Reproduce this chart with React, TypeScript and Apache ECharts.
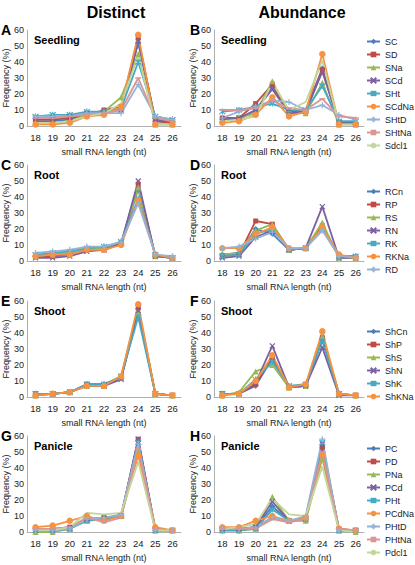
import React, { useEffect, useRef } from 'react';
import * as echarts from 'echarts';

const CATEGORIES = ['18', '19', '20', '21', '22', '23', '24', '25', '26'];

const SEEDLING_NAMES = ['SC', 'SD', 'SNa', 'SCd', 'SHt', 'SCdNa', 'SHtD', 'SHtNa', 'Sdcl1'];
const ROOT_NAMES = ['RCn', 'RP', 'RS', 'RN', 'RK', 'RKNa', 'RD'];
const SHOOT_NAMES = ['ShCn', 'ShP', 'ShS', 'ShN', 'ShK', 'ShKNa'];
const PANICLE_NAMES = ['PC', 'PD', 'PNa', 'PCd', 'PHt', 'PCdNa', 'PHtD', 'PHtNa', 'Pdcl1'];

// A: Distinct, Seedling
const SEEDLING_DISTINCT = [
  [3, 3, 4, 7, 8, 11, 52, 3, 2],
  [4, 4, 5, 7, 10, 12, 55, 3, 2],
  [2, 2, 3, 7, 9, 18, 45, 1, 1],
  [5, 5, 6, 8, 9, 10, 53, 4, 3],
  [6, 7, 7, 9, 9, 11, 40, 6, 4],
  [1, 1, 2, 6, 7, 12, 57, 1, 1],
  [6, 6, 6, 8, 8, 8, 26, 6, 4],
  [5, 5, 6, 7, 8, 10, 30, 5, 3],
  [2, 2, 3, 6, 8, 14, 44, 1, 1],
];
// B: Abundance, Seedling
const SEEDLING_ABUNDANCE = [
  [4, 4, 10, 24, 9, 10, 36, 2, 2],
  [5, 5, 14, 26, 8, 9, 35, 2, 1],
  [4, 5, 8, 28, 8, 8, 27, 1, 1],
  [4, 5, 10, 23, 8, 9, 34, 2, 1],
  [9, 10, 12, 14, 10, 10, 25, 3, 3],
  [2, 3, 7, 18, 6, 9, 45, 1, 1],
  [5, 9, 12, 16, 15, 10, 13, 7, 4],
  [10, 10, 11, 16, 11, 10, 17, 6, 5],
  [3, 4, 6, 27, 10, 15, 41, 1, 1],
];
// C: Distinct, Root
const ROOT_DISTINCT = [
  [3, 3, 4, 7, 8, 11, 45, 3, 2],
  [3, 3, 4, 7, 7, 11, 48, 3, 2],
  [3, 4, 5, 8, 8, 11, 46, 3, 2],
  [2, 2, 3, 6, 7, 11, 50, 3, 2],
  [4, 5, 6, 8, 9, 12, 39, 4, 2],
  [3, 4, 4, 7, 7, 10, 38, 4, 2],
  [5, 6, 7, 9, 9, 12, 36, 4, 3],
];
// D: Abundance, Root
const ROOT_ABUNDANCE = [
  [4, 5, 20, 17, 7, 8, 21, 3, 3],
  [3, 4, 25, 23, 7, 8, 22, 3, 2],
  [4, 5, 19, 23, 7, 8, 24, 2, 2],
  [2, 3, 15, 19, 7, 8, 34, 2, 2],
  [3, 4, 17, 20, 7, 8, 20, 3, 3],
  [8, 8, 17, 21, 8, 8, 21, 4, 2],
  [8, 9, 14, 18, 8, 8, 19, 3, 2],
];
// E: Distinct, Shoot
const SHOOT_DISTINCT = [
  [2, 2, 3, 8, 8, 12, 55, 2, 1],
  [2, 2, 3, 8, 7, 12, 56, 2, 1],
  [1, 2, 3, 7, 7, 12, 52, 2, 1],
  [1, 2, 3, 7, 7, 11, 54, 2, 1],
  [2, 2, 3, 8, 8, 13, 50, 2, 1],
  [1, 2, 3, 7, 7, 13, 58, 2, 1],
];
// F: Abundance, Shoot
const SHOOT_ABUNDANCE = [
  [2, 2, 7, 24, 6, 7, 36, 2, 1],
  [2, 2, 8, 25, 6, 7, 37, 2, 1],
  [1, 3, 16, 20, 6, 7, 38, 2, 1],
  [2, 2, 9, 32, 6, 7, 31, 1, 1],
  [2, 2, 11, 22, 7, 8, 35, 2, 1],
  [1, 2, 10, 26, 6, 8, 41, 2, 1],
];
// G: Distinct, Panicle
const PANICLE_DISTINCT = [
  [1, 1, 2, 8, 8, 10, 57, 1, 1],
  [2, 2, 3, 8, 9, 10, 58, 2, 1],
  [0, 0, 2, 7, 9, 10, 50, 1, 1],
  [1, 1, 2, 8, 8, 10, 58, 1, 1],
  [1, 1, 2, 7, 8, 10, 56, 1, 1],
  [3, 4, 7, 10, 7, 10, 48, 3, 1],
  [1, 1, 2, 8, 9, 11, 55, 1, 1],
  [2, 2, 3, 9, 6, 9, 52, 2, 1],
  [1, 1, 3, 12, 11, 12, 44, 1, 1],
];
// H: Abundance, Panicle
const PANICLE_ABUNDANCE = [
  [1, 1, 3, 16, 7, 8, 53, 1, 0],
  [2, 2, 3, 9, 7, 8, 53, 2, 1],
  [1, 1, 2, 22, 7, 7, 46, 1, 0],
  [2, 2, 3, 19, 7, 9, 55, 1, 1],
  [1, 1, 2, 14, 7, 8, 56, 1, 1],
  [3, 3, 7, 10, 7, 9, 48, 2, 1],
  [2, 2, 3, 9, 7, 10, 58, 1, 1],
  [2, 2, 2, 8, 6, 8, 50, 2, 1],
  [2, 3, 5, 21, 11, 10, 41, 1, 0],
];

const PANEL_LETTERS = ['A', 'B', 'C', 'D', 'E', 'F', 'G', 'H'];
const TISSUES = ['Seedling', 'Root', 'Shoot', 'Panicle'];
const COLUMN_TITLES = ['Distinct', 'Abundance'];
const Y_AXIS_NAME = 'Frequency (%)';
const X_AXIS_NAME = 'small RNA length (nt)';

const COLORS = ['#4A7EBB', '#BE4B48', '#98B954', '#7D60A0', '#46AAC5', '#F69240', '#95B3D7', '#D99694', '#C3D69B'];
const SYMBOLS: any[] = [
  'diamond',
  'rect',
  'triangle',
  'path://M0,0L10,10M10,0L0,10',
  'path://M0,0L10,10M10,0L0,10M5,-1L5,11',
  'circle',
  'path://M5,0L5,10M0,5L10,5',
  'rect',
  'none',
];
const SYMBOL_SIZES: any[] = [6, 5, 6, 5, 6, 6.5, 6, [6, 1.5], 4];
const STROKED = [false, false, false, true, true, false, true, false, false];

const FONT = '"Liberation Sans", Arial, sans-serif';

const App: React.FC = () => {
  const ref = useRef<HTMLDivElement>(null);

  useEffect(() => {
    if (!ref.current) return;
    const chart = echarts.init(ref.current, undefined, { renderer: 'svg' });

    const panels = [
      { names: SEEDLING_NAMES, values: SEEDLING_DISTINCT },
      { names: SEEDLING_NAMES, values: SEEDLING_ABUNDANCE },
      { names: ROOT_NAMES, values: ROOT_DISTINCT },
      { names: ROOT_NAMES, values: ROOT_ABUNDANCE },
      { names: SHOOT_NAMES, values: SHOOT_DISTINCT },
      { names: SHOOT_NAMES, values: SHOOT_ABUNDANCE },
      { names: PANICLE_NAMES, values: PANICLE_DISTINCT },
      { names: PANICLE_NAMES, values: PANICLE_ABUNDANCE },
    ];

    const rowTops = [30, 165, 301, 436];
    const plotH = 96;
    const cols = [
      { left: 27, width: 154 },
      { left: 214, width: 150 },
    ];
    const legendTops = [37, 187, 327, 444];

    const grids: any[] = [];
    const xAxes: any[] = [];
    const yAxes: any[] = [];
    const series: any[] = [];
    const legends: any[] = [];
    const graphics: any[] = [];

    panels.forEach((p, i) => {
      const row = Math.floor(i / 2);
      const col = i % 2;
      const top = rowTops[row];
      const c = cols[col];
      grids.push({
        left: c.left,
        top,
        width: c.width,
        height: plotH,
        containLabel: false,
        outerBoundsMode: 'none',
      });
      xAxes.push({
        type: 'category',
        gridIndex: i,
        data: CATEGORIES,
        boundaryGap: true,
        axisLine: { show: true, lineStyle: { color: '#b0b0b0', width: 1 } },
        axisTick: { show: false },
        axisLabel: { fontSize: 9.5, color: '#222', margin: 6, fontFamily: FONT, interval: 0 },
        splitLine: { show: false },
        name: X_AXIS_NAME,
        nameLocation: 'middle',
        nameGap: 21,
        nameTextStyle: { fontSize: 9, color: '#222', fontFamily: FONT },
      });
      yAxes.push({
        type: 'value',
        gridIndex: i,
        min: 0,
        max: 60,
        interval: 10,
        axisLine: { show: true, lineStyle: { color: '#b0b0b0', width: 1 } },
        axisTick: { show: false },
        axisLabel: { fontSize: 9, color: '#222', margin: 3, fontFamily: FONT },
        splitLine: { show: false },
        name: Y_AXIS_NAME,
        nameLocation: 'middle',
        nameGap: 14,
        nameTextStyle: { fontSize: 9, color: '#222', fontFamily: FONT },
      });
      p.names.forEach((n, k) => {
        const color = COLORS[k];
        series.push({
          type: 'line',
          name: n,
          xAxisIndex: i,
          yAxisIndex: i,
          data: p.values[k],
          symbol: SYMBOLS[k],
          symbolSize: SYMBOL_SIZES[k],
          showSymbol: true,
          lineStyle: { color, width: 1.8 },
          itemStyle: {
            color,
            borderColor: color,
            borderWidth: STROKED[k] ? 1.2 : 0,
          },
          emphasis: { disabled: true },
        });
      });
      if (col === 1) {
        legends.push({
          orient: 'vertical',
          left: 366,
          top: legendTops[row],
          padding: 0,
          itemWidth: 13,
          itemHeight: 7,
          itemGap: 4,
          data: p.names,
          selectedMode: false,
          textStyle: { fontSize: 9, color: '#222', fontFamily: FONT, lineHeight: 9 },
        });
      }
      // panel letter
      graphics.push({
        type: 'text',
        x: col === 0 ? 1 : 190,
        y: top,
        style: {
          text: PANEL_LETTERS[i],
          font: `bold 14px ${FONT}`,
          fill: '#000',
          textVerticalAlign: 'middle',
        },
      });
      // tissue name
      graphics.push({
        type: 'text',
        x: c.left + 7,
        y: top + 10,
        style: {
          text: TISSUES[row],
          font: `bold 11px ${FONT}`,
          fill: '#000',
          textVerticalAlign: 'middle',
        },
      });
    });

    graphics.push({
      type: 'text',
      x: 116,
      y: 12,
      style: {
        text: COLUMN_TITLES[0],
        font: `bold 16px ${FONT}`,
        fill: '#000',
        textAlign: 'center',
        textVerticalAlign: 'middle',
      },
    });
    graphics.push({
      type: 'text',
      x: 302,
      y: 12,
      style: {
        text: COLUMN_TITLES[1],
        font: `bold 16px ${FONT}`,
        fill: '#000',
        textAlign: 'center',
        textVerticalAlign: 'middle',
      },
    });

    chart.setOption({
      animation: false,
      backgroundColor: '#fff',
      textStyle: { fontFamily: FONT },
      grid: grids,
      xAxis: xAxes,
      yAxis: yAxes,
      series,
      legend: legends,
      graphic: graphics,
    });

    return () => {
      chart.dispose();
    };
  }, []);

  return (
    <div
      ref={ref}
      style={{ position: 'fixed', left: 0, top: 0, width: 415, height: 565, background: '#fff' }}
    />
  );
};

export default App;
